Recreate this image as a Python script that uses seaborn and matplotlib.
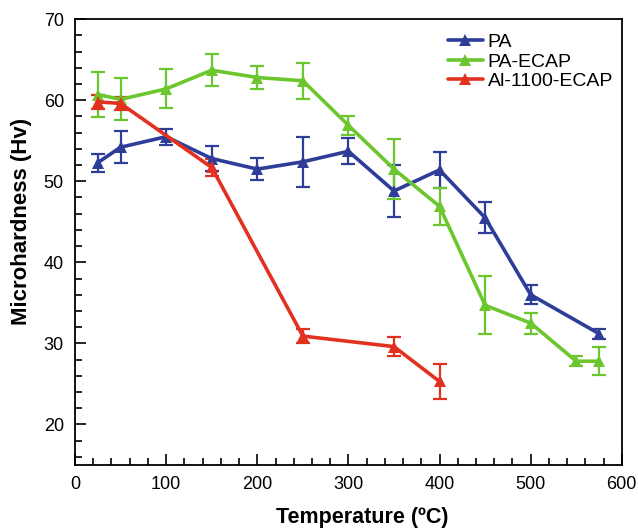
import matplotlib
matplotlib.use("Agg")
import matplotlib.pyplot as plt
import seaborn as sns
import pandas as pd
from matplotlib.ticker import MultipleLocator

# Data
pa_x = [25, 50, 100, 150, 200, 250, 300, 350, 400, 450, 500, 575]
pa_y = [52.3, 54.2, 55.5, 52.8, 51.5, 52.4, 53.7, 48.8, 51.4, 45.5, 36.0, 31.2]
pa_err = [1.1, 2.0, 1.0, 1.5, 1.4, 3.1, 1.6, 3.2, 2.2, 1.9, 1.2, 0.6]

ecap_x = [25, 50, 100, 150, 200, 250, 300, 350, 400, 450, 500, 550, 575]
ecap_y = [60.7, 60.1, 61.4, 63.7, 62.8, 62.4, 56.9, 51.5, 46.9, 34.7, 32.5, 27.8, 27.8]
ecap_err = [2.8, 2.6, 2.4, 2.0, 1.4, 2.2, 1.2, 3.7, 2.3, 3.6, 1.3, 0.6, 1.7]

al_x = [25, 50, 150, 250, 350, 400]
al_y = [59.8, 59.6, 51.7, 30.9, 29.6, 25.3]
al_err = [0.9, 0.8, 1.1, 0.9, 1.2, 2.1]

names = ["PA", "PA-ECAP", "Al-1100-ECAP"]
colors = ["#2E3D98", "#6CC72E", "#E3311F"]

frames = []
for n, xs, ys, es in [(names[0], pa_x, pa_y, pa_err),
                      (names[1], ecap_x, ecap_y, ecap_err),
                      (names[2], al_x, al_y, al_err)]:
    frames.append(pd.DataFrame({"T": xs, "H": ys, "err": es, "series": n}))
df = pd.concat(frames, ignore_index=True)

sns.set_style("ticks")
plt.rcParams['font.family'] = ['Liberation Sans', 'DejaVu Sans']
plt.rcParams['text.color'] = 'black'
plt.rcParams['axes.labelcolor'] = 'black'
plt.rcParams['xtick.color'] = 'black'
plt.rcParams['ytick.color'] = 'black'

fig = plt.figure(figsize=(6.38, 5.32), dpi=100)
ax = fig.add_axes([0.1176, 0.126, 0.857, 0.838])

palette = dict(zip(names, colors))
sns.lineplot(data=df, x="T", y="H", hue="series", hue_order=names, palette=palette,
             marker="^", markersize=8, markeredgewidth=0, linewidth=2.6, ax=ax,
             legend=True, sort=False)
for n in names:
    sub = df[df.series == n]
    ax.errorbar(sub["T"], sub["H"], yerr=sub["err"], fmt="none", ecolor=palette[n],
                elinewidth=1.6, capsize=5, capthick=1.6, zorder=1)

ax.set_xlim(0, 600)
ax.set_ylim(15, 70)
ax.xaxis.set_major_locator(MultipleLocator(100))
ax.xaxis.set_minor_locator(MultipleLocator(20))
ax.yaxis.set_major_locator(MultipleLocator(10))
ax.yaxis.set_minor_locator(MultipleLocator(2))
ax.tick_params(which="major", direction="in", length=8, width=1.2, labelsize=13,
               pad=8, top=False, right=False)
ax.tick_params(which="minor", direction="in", length=5, width=1.2, top=False, right=False)
for s in ax.spines.values():
    s.set_linewidth(1.3)
    s.set_color("black")

ax.set_xlabel("Temperature (ºC)", fontsize=15.5, fontweight="bold")
ax.set_ylabel("Microhardness (Hv)", fontsize=16, fontweight="bold")
ax.xaxis.set_label_coords(0.525, -0.095)
ax.yaxis.set_label_coords(-0.079, 0.547)

handles, labels = ax.get_legend_handles_labels()
ax.legend(handles, labels, loc="upper right", frameon=False, fontsize=14,
          handlelength=1.8, handletextpad=0.25, labelspacing=0.1,
          bbox_to_anchor=(1.016, 1.007))

fig.savefig("out.png", dpi=100)
